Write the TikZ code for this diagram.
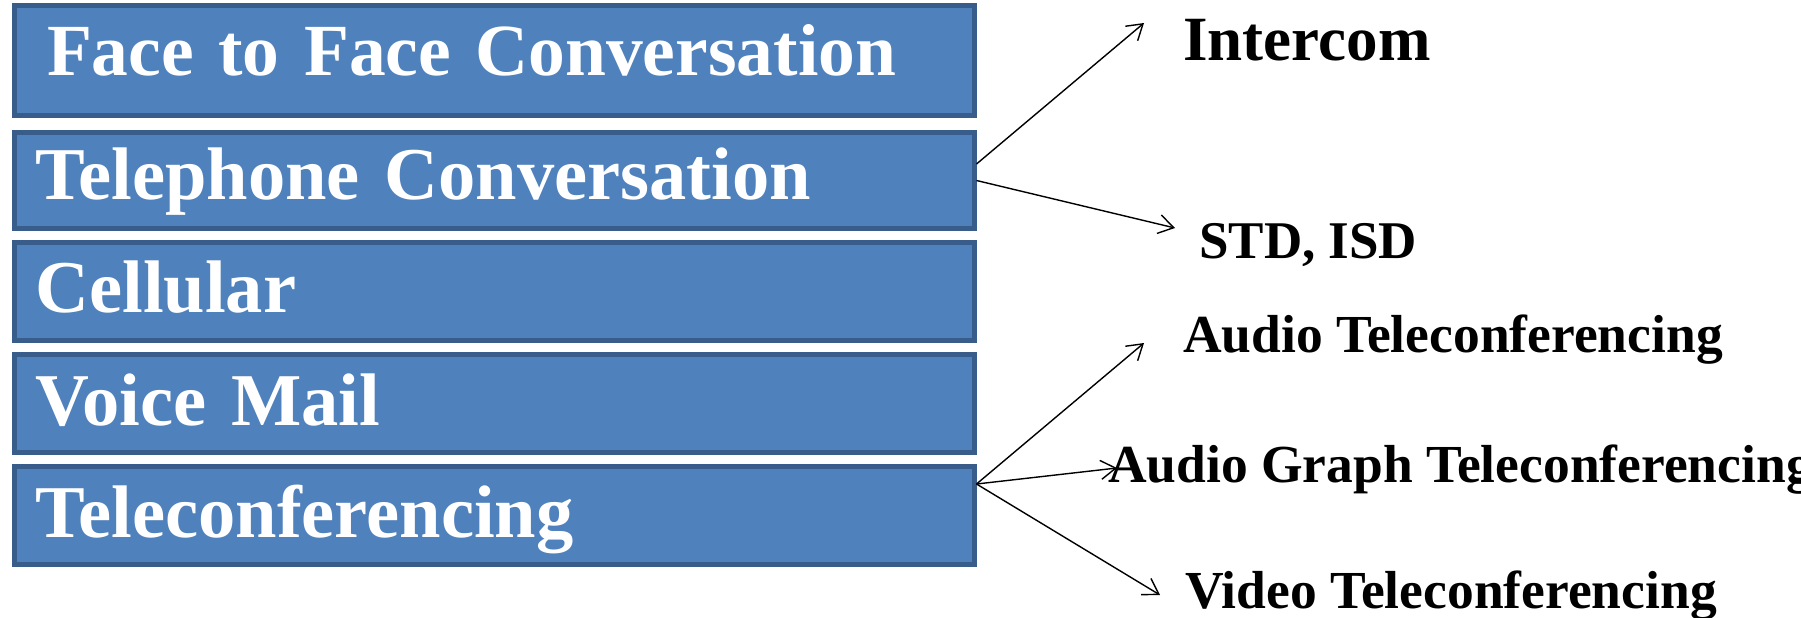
\documentclass[tikz,border=0pt]{standalone}
\usepackage{fontspec}
\setmainfont{Liberation Serif}
\usepackage{xcolor}
\usetikzlibrary{positioning,calc,arrows.meta}
\definecolor{boxfill}{HTML}{4F81BD}
\definecolor{boxline}{HTML}{385D8A}

\begin{document}
\begin{tikzpicture}[x=1pt, y=-1pt, >={Straight Barb[length=15pt,width=19pt]},
    mode/.style={draw=boxline, fill=boxfill, line width=5pt, text=white,
        font=\bfseries\fontsize{74.5}{80}\selectfont, anchor=base west,
        inner xsep=21.5pt, inner ysep=0pt, text width=917pt, align=left},
    sub/.style={anchor=base west, inner sep=0pt, font=\bfseries\fontsize{53.5}{58}\selectfont},
    link/.style={->, line width=1.4pt}]
    \useasboundingbox (0,0) rectangle (1801,618);

    % Boxes
    \node [mode, font=\bfseries\fontsize{73.5}{80}\selectfont, inner xsep=33pt, text width=894pt, text height=69.5pt, text depth=40.5pt] (face) at (11.5,75) {Face to Face Conversation};
    \node [mode, text height=66.5pt, text depth=29.5pt] (tel) at (11.5,199) {Telephone Conversation};
    \node [mode, text height=69.5pt, text depth=28.5pt] (cell) at (11.5,312) {Cellular};
    \node [mode, text height=70.5pt, text depth=27.5pt] (voice) at (11.5,425) {Voice Mail};
    \node [mode, text height=70.5pt, text depth=27.5pt] (conf) at (11.5,537) {Teleconferencing};

    % Sub types
    \node [sub, font=\bfseries\fontsize{63}{68}\selectfont] (intercom) at (1183,60) {Intercom};
    \node [sub, font=\bfseries\fontsize{53}{58}\selectfont] (std) at (1199,258) {STD, ISD};
    \node [sub] (audio) at (1183,352) {Audio Teleconferencing};
    \node [sub] (graph) at (1108,482) {Audio Graph Teleconferencing};
    \node [sub] (video) at (1185,608) {Video Teleconferencing};

    % Arrow ends
    \coordinate (t1) at (1144,23);
    \coordinate (t2) at (1175,228);
    \coordinate (t3) at (1144,343);
    \coordinate (t4) at (1117,468);
    \coordinate (t5) at (1160,595);

    % Arrows
    \draw [link] ([yshift=16.5pt]tel.east) -- (t1);
    \draw [link] (tel.east) -- (t2);
    \draw [link] ([yshift=31.5pt]conf.east) -- (t3);
    \draw [link] ([yshift=31.5pt]conf.east) -- (t4);
    \draw [link] ([yshift=31.5pt]conf.east) -- (t5);
\end{tikzpicture}
\end{document}
